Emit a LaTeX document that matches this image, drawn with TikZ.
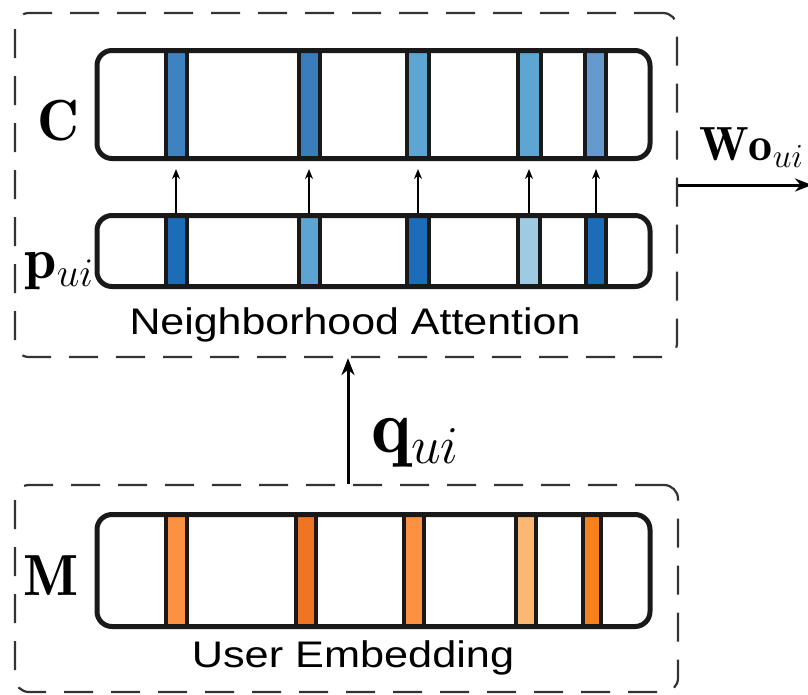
\documentclass[tikz,border=0pt]{standalone}
\usepackage{fix-cm}
\usepackage{fontspec}
\setsansfont{Liberation Sans}
\usetikzlibrary{arrows.meta}

% stripe colours
\definecolor{cA}{HTML}{3F82C0}
\definecolor{cB}{HTML}{3A7DBD}
\definecolor{cC}{HTML}{5EA6D2}
\definecolor{cD}{HTML}{6699CD}
\definecolor{pDark}{HTML}{1C6CB8}
\definecolor{pMid}{HTML}{5CA5D2}
\definecolor{pLight}{HTML}{9ECBE2}
\definecolor{mA}{HTML}{FD9142}
\definecolor{mB}{HTML}{F07522}
\definecolor{mC}{HTML}{FDB775}
\definecolor{mD}{HTML}{F5821F}

\begin{document}
\begin{tikzpicture}[x=1pt,y=-1pt,
  group/.style={draw=black!80, line width=2.2pt, dash pattern=on 29pt off 18pt,
    rounded corners=14pt, inner sep=0pt},
  vec/.style={draw=black!90, line width=5pt, rounded corners=15pt, inner sep=0pt,
    minimum width=553pt},
  cell/.style={draw=black!90, line width=3.2pt},
  link/.style={-{Stealth[length=10pt,width=8pt]}, line width=1.8pt},
  flow/.style={-{Stealth[length=17pt,width=13pt]}, line width=3pt},
  sym/.style={font=\fontsize{58}{64}\selectfont, inner sep=0pt, anchor=base},
  caption/.style={font=\fontsize{37}{44}\selectfont\sffamily, inner sep=0pt, anchor=base}
]
\path[use as bounding box] (0,0) rectangle (808,694);
\clip (0,0) rectangle (808,694);

% dashed groups
\node[group, minimum width=662pt, minimum height=344pt] (NA) at (346,185) {};
\node[group, minimum width=663pt, minimum height=207pt] (UE) at (346.5,588.5) {};

% coloured cells inside the vectors
\foreach \a/\b/\col in {166/187/cA, 299/320/cB, 407/429/cC, 518/541/cC, 585/606/cD}
  \filldraw[cell, fill=\col] (\a,51) rectangle (\b,158);
\foreach \a/\b/\col in {166/187/pDark, 299/320/pMid, 407/429/pDark, 518/540/pLight, 586/606/pDark}
  \filldraw[cell, fill=\col] (\a,216) rectangle (\b,286);
\foreach \a/\b/\col in {166/187/mA, 296/316/mB, 404/424/mA, 516/536/mC, 583/601/mD}
  \filldraw[cell, fill=\col] (\a,515) rectangle (\b,626);

% vectors
\node[vec, minimum height=108pt] (C) at (373.5,104.5) {};
\node[vec, minimum height=71pt] (P) at (373.5,251) {};
\node[vec, minimum height=112pt] (M) at (373.5,570.5) {};

% attention links
\coordinate (ctip) at ([yshift=-8pt]C.south);
\foreach \x in {176,309,418,529,596}
  \draw[link] (P.north -| \x,0) -- (ctip -| \x,0);

% labels
\node[sym] (lC) at (58,140) {$\mathbf{C}$};
\node[sym] (lP) at (59,278) {$\mathbf{p}_{ui}$};
\node[sym] (lM) at (51,595) {$\mathbf{M}$};
\node[caption] (tNA) at (355,334) {\scalebox{1.16}[1]{Neighborhood Attention}};
\node[caption] (tUE) at (353,667) {\scalebox{1.17}[1]{User Embedding}};

% query arrow
\coordinate (qx) at (348,0);
\draw[flow] (UE.north -| qx) -- (NA.south -| qx);
\node[font=\fontsize{76}{84}\selectfont, inner sep=0pt, anchor=base west] (lq) at (371,452) {$\mathbf{q}_{ui}$};

% output arrow
\coordinate (out) at (812,185);
\draw[flow] (NA.east |- out) -- (out);
\node[font=\fontsize{48}{54}\selectfont, inner sep=0pt, anchor=base west] (lW) at (699,160) {$\mathbf{Wo}_{ui}$};
\end{tikzpicture}
\end{document}
